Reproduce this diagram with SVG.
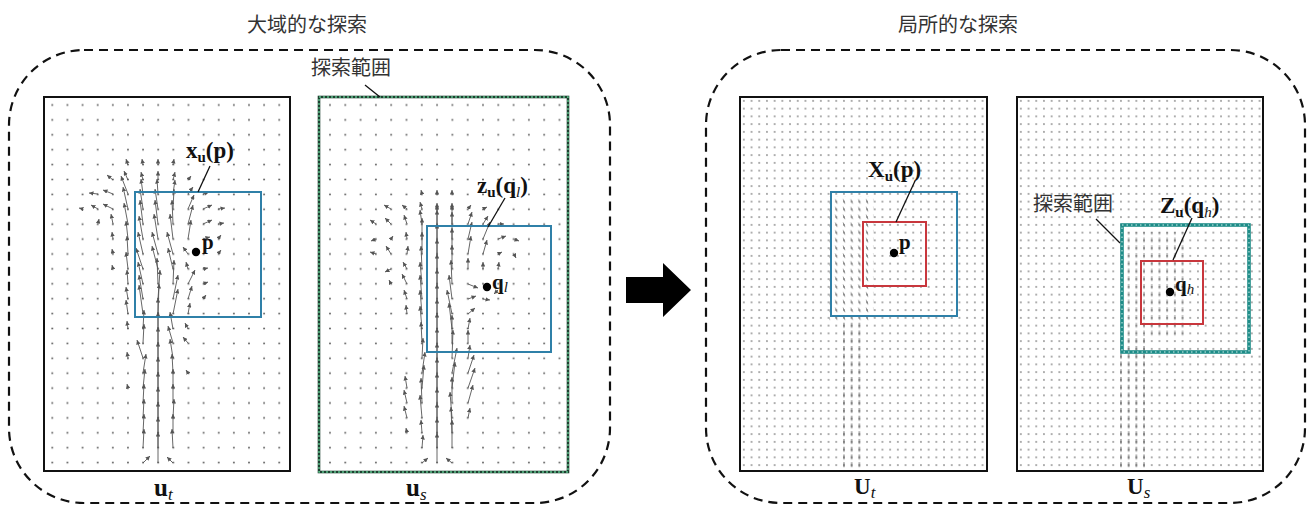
<svg xmlns="http://www.w3.org/2000/svg" width="1312" height="507" viewBox="0 0 1312 507">
<defs>
<style>
.frame{fill:none;stroke:#111;stroke-width:2}
.dash{fill:none;stroke:#111;stroke-width:2.2;stroke-dasharray:9 6}
.blue{fill:none;stroke:#2f80a8;stroke-width:2}
.red{fill:none;stroke:#c8373d;stroke-width:2}
.q{stroke:#555;stroke-width:0.9;marker-end:url(#ah)}
.lead{stroke:#111;stroke-width:1.3;fill:none}
.jp{font-family:"Noto Sans CJK JP","Noto Sans",sans-serif;font-size:20px;fill:#333}
.m{font-family:"Liberation Serif",serif;font-weight:bold;fill:#111}
.it{font-style:italic;font-weight:normal}
</style>
<marker id="ah" viewBox="0 0 6 6" refX="6" refY="3" markerWidth="4.5" markerHeight="4.5" markerUnits="userSpaceOnUse" orient="auto"><path d="M0,0 L6,3 L0,6 z" fill="#555"/></marker>
<pattern id="g1" patternUnits="userSpaceOnUse" x="44.74" y="97.55" width="15.13" height="14.9"><circle cx="7.565" cy="7.45" r="0.9" fill="#555"/></pattern>
<pattern id="g2" patternUnits="userSpaceOnUse" x="322.35" y="97.55" width="15.3" height="14.9"><circle cx="7.65" cy="7.45" r="0.9" fill="#555"/></pattern>
<pattern id="fg3" patternUnits="userSpaceOnUse" x="740" y="97" width="7.7" height="7.75"><circle cx="3.85" cy="3.9" r="0.75" fill="#333"/></pattern>
<pattern id="fg4" patternUnits="userSpaceOnUse" x="1017" y="97" width="7.7" height="7.75"><circle cx="3.85" cy="3.9" r="0.75" fill="#333"/></pattern>
<pattern id="tk3" patternUnits="userSpaceOnUse" x="740" y="97" width="7.7" height="7.75"><line x1="3.85" y1="6" x2="3.85" y2="1" stroke="#444" stroke-width="0.8"/></pattern>
<pattern id="tk3l" patternUnits="userSpaceOnUse" x="740" y="97" width="7.7" height="7.75"><line x1="4.8" y1="6" x2="3" y2="1.5" stroke="#555" stroke-width="0.8"/></pattern>
<pattern id="tk4" patternUnits="userSpaceOnUse" x="1017" y="97" width="7.7" height="7.75"><line x1="3.85" y1="6" x2="3.85" y2="1" stroke="#444" stroke-width="0.8"/></pattern>
</defs>
<rect width="1312" height="507" fill="#fff"/>

<g id="global-search">
<rect class="dash" x="9" y="50" width="601" height="453" rx="75"/>
<text class="jp" x="307" y="32" text-anchor="middle">大域的な探索</text>
</g>
<g id="local-search">
<rect class="dash" x="706" y="50" width="599" height="453" rx="75"/>
<text class="jp" x="958" y="32" text-anchor="middle">局所的な探索</text>
</g>

<g id="panel-ut">
<rect x="44" y="97" width="246" height="374" fill="url(#g1)"/>
<g>
<line class="q" x1="143" y1="463" x2="150" y2="456"/><line class="q" x1="158" y1="463" x2="158" y2="432"/><line class="q" x1="173" y1="463" x2="167" y2="457"/>
<line class="q" x1="143" y1="448" x2="144" y2="429"/><line class="q" x1="158" y1="448" x2="158" y2="417"/><line class="q" x1="173" y1="448" x2="172" y2="429"/>
<line class="q" x1="143" y1="433" x2="144" y2="414"/><line class="q" x1="158" y1="433" x2="158" y2="402"/><line class="q" x1="173" y1="433" x2="173" y2="414"/>
<line class="q" x1="143" y1="418" x2="144" y2="399"/><line class="q" x1="158" y1="418" x2="158" y2="387"/><line class="q" x1="173" y1="418" x2="174" y2="399"/>
<line class="q" x1="143" y1="403" x2="144" y2="384"/><line class="q" x1="158" y1="403" x2="158" y2="372"/><line class="q" x1="173" y1="403" x2="173" y2="384"/>
<line class="q" x1="143" y1="388" x2="145" y2="369"/><line class="q" x1="158" y1="388" x2="158" y2="357"/><line class="q" x1="173" y1="388" x2="173" y2="369"/><line class="q" x1="128" y1="388" x2="127" y2="384"/>
<line class="q" x1="143" y1="373" x2="146" y2="354"/><line class="q" x1="158" y1="373" x2="158" y2="342"/><line class="q" x1="173" y1="373" x2="172" y2="354"/><line class="q" x1="188" y1="373" x2="186" y2="370"/>
<line class="q" x1="143" y1="358" x2="137" y2="340"/><line class="q" x1="158" y1="358" x2="158" y2="327"/><line class="q" x1="173" y1="358" x2="170" y2="339"/><line class="q" x1="128" y1="358" x2="127" y2="352"/>
<line class="q" x1="143" y1="343" x2="144" y2="324"/><line class="q" x1="158" y1="343" x2="158" y2="312"/><line class="q" x1="173" y1="343" x2="168" y2="326"/><line class="q" x1="188" y1="343" x2="183" y2="337"/>
<line class="q" x1="128" y1="329" x2="127" y2="321"/><line class="q" x1="143" y1="329" x2="144" y2="310"/><line class="q" x1="158" y1="329" x2="158" y2="298"/><line class="q" x1="173" y1="329" x2="170" y2="312"/><line class="q" x1="188" y1="329" x2="185" y2="323"/>
<line class="q" x1="128" y1="314" x2="126" y2="300"/><line class="q" x1="143" y1="314" x2="139" y2="285"/><line class="q" x1="158" y1="314" x2="159" y2="284"/><line class="q" x1="173" y1="314" x2="178" y2="289"/><line class="q" x1="188" y1="314" x2="190" y2="303"/>
<line class="q" x1="128" y1="299" x2="126" y2="287"/><line class="q" x1="143" y1="299" x2="139" y2="275"/><line class="q" x1="158" y1="299" x2="160" y2="270"/><line class="q" x1="173" y1="299" x2="178" y2="275"/><line class="q" x1="188" y1="299" x2="192" y2="286"/><line class="q" x1="203" y1="299" x2="206" y2="295"/>
<line class="q" x1="128" y1="284" x2="127" y2="270"/><line class="q" x1="143" y1="284" x2="138" y2="262"/><line class="q" x1="158" y1="284" x2="157" y2="258"/><line class="q" x1="173" y1="284" x2="174" y2="260"/><line class="q" x1="188" y1="284" x2="195" y2="270"/><line class="q" x1="203" y1="284" x2="208" y2="282"/>
<line class="q" x1="113" y1="269" x2="112" y2="265"/><line class="q" x1="128" y1="269" x2="126" y2="252"/><line class="q" x1="143" y1="269" x2="136" y2="248"/><line class="q" x1="158" y1="269" x2="152" y2="246"/><line class="q" x1="173" y1="269" x2="168" y2="248"/><line class="q" x1="188" y1="269" x2="186" y2="262"/><line class="q" x1="203" y1="269" x2="208" y2="268"/>
<line class="q" x1="113" y1="254" x2="112" y2="249"/><line class="q" x1="128" y1="254" x2="127" y2="236"/><line class="q" x1="143" y1="254" x2="138" y2="232"/><line class="q" x1="158" y1="254" x2="152" y2="232"/><line class="q" x1="173" y1="254" x2="167" y2="232"/><line class="q" x1="188" y1="254" x2="183" y2="247"/><line class="q" x1="218" y1="254" x2="221" y2="250"/>
<line class="q" x1="113" y1="239" x2="112" y2="232"/><line class="q" x1="128" y1="239" x2="126" y2="221"/><line class="q" x1="143" y1="239" x2="139" y2="216"/><line class="q" x1="158" y1="239" x2="154" y2="214"/><line class="q" x1="173" y1="239" x2="170" y2="214"/><line class="q" x1="188" y1="239" x2="191" y2="220"/><line class="q" x1="203" y1="239" x2="210" y2="237"/><line class="q" x1="218" y1="239" x2="221" y2="235"/>
<line class="q" x1="98" y1="224" x2="99" y2="219"/><line class="q" x1="113" y1="224" x2="111" y2="214"/><line class="q" x1="128" y1="224" x2="124" y2="203"/><line class="q" x1="143" y1="224" x2="140" y2="200"/><line class="q" x1="158" y1="224" x2="155" y2="200"/><line class="q" x1="173" y1="224" x2="172" y2="200"/><line class="q" x1="188" y1="224" x2="193" y2="205"/><line class="q" x1="203" y1="224" x2="212" y2="220"/><line class="q" x1="218" y1="224" x2="224" y2="223"/>
<line class="q" x1="83" y1="209" x2="79" y2="208"/><line class="q" x1="98" y1="209" x2="91" y2="205"/><line class="q" x1="113" y1="209" x2="103" y2="204"/><line class="q" x1="128" y1="209" x2="123" y2="187"/><line class="q" x1="143" y1="209" x2="140" y2="189"/><line class="q" x1="158" y1="209" x2="155" y2="189"/><line class="q" x1="173" y1="209" x2="174" y2="189"/><line class="q" x1="188" y1="209" x2="194" y2="195"/><line class="q" x1="203" y1="209" x2="212" y2="205"/><line class="q" x1="218" y1="209" x2="225" y2="208"/>
<line class="q" x1="98" y1="194" x2="89" y2="193"/><line class="q" x1="113" y1="194" x2="103" y2="190"/><line class="q" x1="128" y1="194" x2="121" y2="176"/><line class="q" x1="143" y1="194" x2="141" y2="179"/><line class="q" x1="158" y1="194" x2="157" y2="179"/><line class="q" x1="173" y1="194" x2="175" y2="180"/><line class="q" x1="188" y1="194" x2="193" y2="187"/><line class="q" x1="203" y1="194" x2="209" y2="192"/>
<line class="q" x1="113" y1="180" x2="107" y2="175"/><line class="q" x1="128" y1="180" x2="124" y2="171"/><line class="q" x1="143" y1="180" x2="141" y2="172"/><line class="q" x1="158" y1="180" x2="158" y2="171"/><line class="q" x1="173" y1="180" x2="175" y2="172"/><line class="q" x1="188" y1="180" x2="191" y2="176"/>
<line class="q" x1="128" y1="165" x2="126" y2="159"/><line class="q" x1="143" y1="165" x2="142" y2="159"/><line class="q" x1="158" y1="165" x2="158" y2="159"/><line class="q" x1="173" y1="165" x2="174" y2="159"/>
</g>
<rect class="frame" x="44" y="97" width="246" height="374"/>
<rect class="blue" x="135" y="192" width="126" height="125"/>
<circle cx="196" cy="252" r="4.2" fill="#000"/>
<text class="m" x="202" y="249" font-size="21">p</text>
<text class="m" x="186" y="158" font-size="23">x<tspan font-size="15" dy="4">u</tspan><tspan dy="-4">(p)</tspan></text>
<text class="m" x="154" y="496" font-size="25">u<tspan class="it" font-size="17" dy="4">t</tspan></text>
</g>

<g id="panel-us">
<rect x="319" y="97" width="249" height="375" fill="url(#g2)"/>
<g>
<line class="q" x1="422" y1="463" x2="428" y2="458"/><line class="q" x1="437" y1="463" x2="437" y2="433"/><line class="q" x1="452" y1="463" x2="446" y2="458"/>
<line class="q" x1="422" y1="448" x2="423" y2="435"/><line class="q" x1="437" y1="448" x2="437" y2="418"/><line class="q" x1="452" y1="448" x2="452" y2="420"/>
<line class="q" x1="407" y1="433" x2="406" y2="428"/><line class="q" x1="422" y1="433" x2="421" y2="420"/><line class="q" x1="437" y1="433" x2="437" y2="403"/><line class="q" x1="452" y1="433" x2="451" y2="407"/>
<line class="q" x1="407" y1="418" x2="404" y2="406"/><line class="q" x1="422" y1="418" x2="420" y2="395"/><line class="q" x1="437" y1="418" x2="437" y2="388"/><line class="q" x1="452" y1="418" x2="450" y2="392"/><line class="q" x1="468" y1="418" x2="470" y2="408"/>
<line class="q" x1="407" y1="403" x2="404" y2="390"/><line class="q" x1="422" y1="403" x2="421" y2="378"/><line class="q" x1="437" y1="403" x2="437" y2="373"/><line class="q" x1="452" y1="403" x2="452" y2="377"/><line class="q" x1="468" y1="403" x2="473" y2="385"/>
<line class="q" x1="407" y1="388" x2="405" y2="376"/><line class="q" x1="422" y1="388" x2="424" y2="365"/><line class="q" x1="437" y1="388" x2="437" y2="358"/><line class="q" x1="452" y1="388" x2="455" y2="362"/><line class="q" x1="468" y1="388" x2="475" y2="368"/>
<line class="q" x1="422" y1="373" x2="425" y2="352"/><line class="q" x1="437" y1="373" x2="437" y2="343"/><line class="q" x1="452" y1="373" x2="457" y2="348"/><line class="q" x1="468" y1="373" x2="474" y2="355"/>
<line class="q" x1="422" y1="358" x2="423" y2="338"/><line class="q" x1="437" y1="358" x2="437" y2="328"/><line class="q" x1="452" y1="358" x2="453" y2="330"/><line class="q" x1="468" y1="358" x2="470" y2="345"/>
<line class="q" x1="422" y1="343" x2="421" y2="322"/><line class="q" x1="437" y1="343" x2="437" y2="313"/><line class="q" x1="452" y1="343" x2="452" y2="315"/><line class="q" x1="468" y1="343" x2="468" y2="330"/>
<line class="q" x1="422" y1="329" x2="420" y2="306"/><line class="q" x1="437" y1="329" x2="437" y2="299"/><line class="q" x1="452" y1="329" x2="449" y2="303"/><line class="q" x1="468" y1="329" x2="470" y2="318"/>
<line class="q" x1="407" y1="314" x2="406" y2="305"/><line class="q" x1="422" y1="314" x2="420" y2="290"/><line class="q" x1="437" y1="314" x2="437" y2="284"/><line class="q" x1="452" y1="314" x2="447" y2="290"/><line class="q" x1="468" y1="314" x2="475" y2="308"/>
<line class="q" x1="407" y1="299" x2="404" y2="290"/><line class="q" x1="422" y1="299" x2="420" y2="275"/><line class="q" x1="437" y1="299" x2="437" y2="269"/><line class="q" x1="452" y1="299" x2="449" y2="275"/><line class="q" x1="468" y1="299" x2="476" y2="296"/><line class="q" x1="483" y1="299" x2="490" y2="300"/>
<line class="q" x1="391" y1="284" x2="389" y2="280"/><line class="q" x1="407" y1="284" x2="402" y2="274"/><line class="q" x1="422" y1="284" x2="420" y2="262"/><line class="q" x1="437" y1="284" x2="437" y2="254"/><line class="q" x1="452" y1="284" x2="451" y2="260"/><line class="q" x1="468" y1="284" x2="478" y2="288"/><line class="q" x1="498" y1="290" x2="494" y2="294"/>
<line class="q" x1="391" y1="269" x2="385" y2="272"/><line class="q" x1="407" y1="269" x2="403" y2="262"/><line class="q" x1="422" y1="269" x2="421" y2="246"/><line class="q" x1="437" y1="269" x2="437" y2="239"/><line class="q" x1="452" y1="269" x2="452" y2="245"/><line class="q" x1="468" y1="269" x2="468" y2="258"/><line class="q" x1="483" y1="269" x2="483" y2="262"/><line class="q" x1="498" y1="269" x2="499" y2="262"/>
<line class="q" x1="376" y1="254" x2="370" y2="252"/><line class="q" x1="391" y1="254" x2="386" y2="246"/><line class="q" x1="407" y1="254" x2="408" y2="246"/><line class="q" x1="422" y1="254" x2="422" y2="232"/><line class="q" x1="437" y1="254" x2="437" y2="224"/><line class="q" x1="452" y1="254" x2="452" y2="228"/><line class="q" x1="468" y1="254" x2="471" y2="236"/><line class="q" x1="483" y1="254" x2="487" y2="240"/><line class="q" x1="498" y1="254" x2="502" y2="252"/><line class="q" x1="514" y1="254" x2="516" y2="258"/>
<line class="q" x1="376" y1="239" x2="371" y2="241"/><line class="q" x1="391" y1="239" x2="393" y2="236"/><line class="q" x1="407" y1="239" x2="406" y2="232"/><line class="q" x1="422" y1="239" x2="422" y2="218"/><line class="q" x1="437" y1="239" x2="437" y2="210"/><line class="q" x1="452" y1="239" x2="452" y2="212"/><line class="q" x1="468" y1="239" x2="472" y2="222"/><line class="q" x1="483" y1="239" x2="490" y2="222"/><line class="q" x1="498" y1="239" x2="506" y2="236"/><line class="q" x1="514" y1="239" x2="519" y2="241"/>
<line class="q" x1="376" y1="224" x2="370" y2="220"/><line class="q" x1="391" y1="224" x2="385" y2="218"/><line class="q" x1="407" y1="224" x2="404" y2="215"/><line class="q" x1="422" y1="224" x2="420" y2="210"/><line class="q" x1="437" y1="224" x2="437" y2="205"/><line class="q" x1="452" y1="224" x2="452" y2="205"/><line class="q" x1="468" y1="224" x2="472" y2="212"/><line class="q" x1="483" y1="224" x2="488" y2="216"/><line class="q" x1="498" y1="224" x2="504" y2="224"/>
<line class="q" x1="391" y1="209" x2="384" y2="205"/><line class="q" x1="407" y1="209" x2="402" y2="205"/><line class="q" x1="422" y1="209" x2="420" y2="202"/><line class="q" x1="437" y1="209" x2="437" y2="203"/><line class="q" x1="452" y1="209" x2="452" y2="203"/><line class="q" x1="468" y1="209" x2="471" y2="205"/><line class="q" x1="483" y1="209" x2="487" y2="207"/>
<line class="q" x1="422" y1="194" x2="421" y2="190"/><line class="q" x1="437" y1="194" x2="437" y2="190"/><line class="q" x1="452" y1="194" x2="452" y2="190"/>
</g>
<rect x="319" y="97" width="249" height="375" fill="none" stroke="#1d4030" stroke-width="2.6"/>
<rect x="319" y="97" width="249" height="375" fill="none" stroke="#5cc08a" stroke-width="1.4" stroke-dasharray="2 2"/>
<rect class="blue" x="427" y="226" width="124" height="126"/>
<circle cx="487" cy="287" r="4.2" fill="#000"/>
<text class="m" x="492" y="289" font-size="21">q<tspan class="it" font-size="15" dy="3">l</tspan></text>
<text class="m" x="477" y="193" font-size="23">z<tspan font-size="15" dy="4">u</tspan><tspan dy="-4">(q</tspan><tspan class="it" font-size="15" dy="4">l</tspan><tspan dy="-4">)</tspan></text>
<text class="jp" x="351" y="75" text-anchor="middle">探索範囲</text>
<text class="m" x="406" y="496" font-size="25">u<tspan class="it" font-size="17" dy="4">s</tspan></text>
</g>

<g id="panel-Ut">
<rect x="740" y="97" width="247" height="374" fill="url(#fg3)"/>
<rect x="840" y="322" width="26" height="148" fill="url(#tk3)"/>
<rect x="829" y="196" width="45" height="126" fill="url(#tk3l)" opacity="0.8"/>
<rect class="frame" x="740" y="97" width="247" height="374"/>
<rect class="blue" x="831" y="192" width="126" height="124"/>
<rect class="red" x="863" y="222" width="63" height="64"/>
<circle cx="894" cy="253" r="4.2" fill="#000"/>
<text class="m" x="899" y="249" font-size="21">p</text>
<text class="m" x="868" y="177" font-size="23">X<tspan font-size="15" dy="4">u</tspan><tspan dy="-4">(p)</tspan></text>
<text class="m" x="854" y="494" font-size="23">U<tspan class="it" font-size="17" dy="4">t</tspan></text>
</g>

<g id="panel-Us">
<rect x="1017" y="97" width="246" height="374" fill="url(#fg4)"/>
<rect x="1117" y="335" width="31" height="135" fill="url(#tk4)"/>
<rect x="1124" y="232" width="62" height="105" fill="url(#tk4)" opacity="0.75"/>
<rect class="frame" x="1017" y="97" width="246" height="374"/>
<rect x="1122" y="225" width="127" height="127" fill="none" stroke="#1e8c88" stroke-width="3.6"/>
<rect x="1122" y="225" width="127" height="127" fill="none" stroke="#d6f2ee" stroke-width="1" stroke-dasharray="1.5 3"/>
<rect class="red" x="1141" y="261" width="62" height="63"/>
<circle cx="1170" cy="292" r="4.2" fill="#000"/>
<text class="m" x="1175" y="291" font-size="21">q<tspan class="it" font-size="15" dy="3">h</tspan></text>
<text class="m" x="1160" y="213" font-size="23">Z<tspan font-size="15" dy="4">u</tspan><tspan dy="-4">(q</tspan><tspan class="it" font-size="15" dy="4">h</tspan><tspan dy="-4">)</tspan></text>
<text class="jp" x="1073" y="211" text-anchor="middle" font-size="19">探索範囲</text>
<text class="m" x="1127" y="494" font-size="23">U<tspan class="it" font-size="17" dy="4">s</tspan></text>
</g>

<g id="connectors">
<line class="lead" x1="365" y1="85" x2="380" y2="97"/>
<line class="lead" x1="198" y1="192" x2="210" y2="166"/>
<line class="lead" x1="488" y1="227" x2="505" y2="198"/>
<line class="lead" x1="896" y1="222" x2="915" y2="181"/>
<line class="lead" x1="1173" y1="260" x2="1192" y2="218"/>
<line class="lead" x1="1096" y1="219" x2="1120" y2="243"/>
<polygon points="626,277 663,277 663,263 691,290 663,317 663,303 626,303" fill="#000"/>
</g>
</svg>
